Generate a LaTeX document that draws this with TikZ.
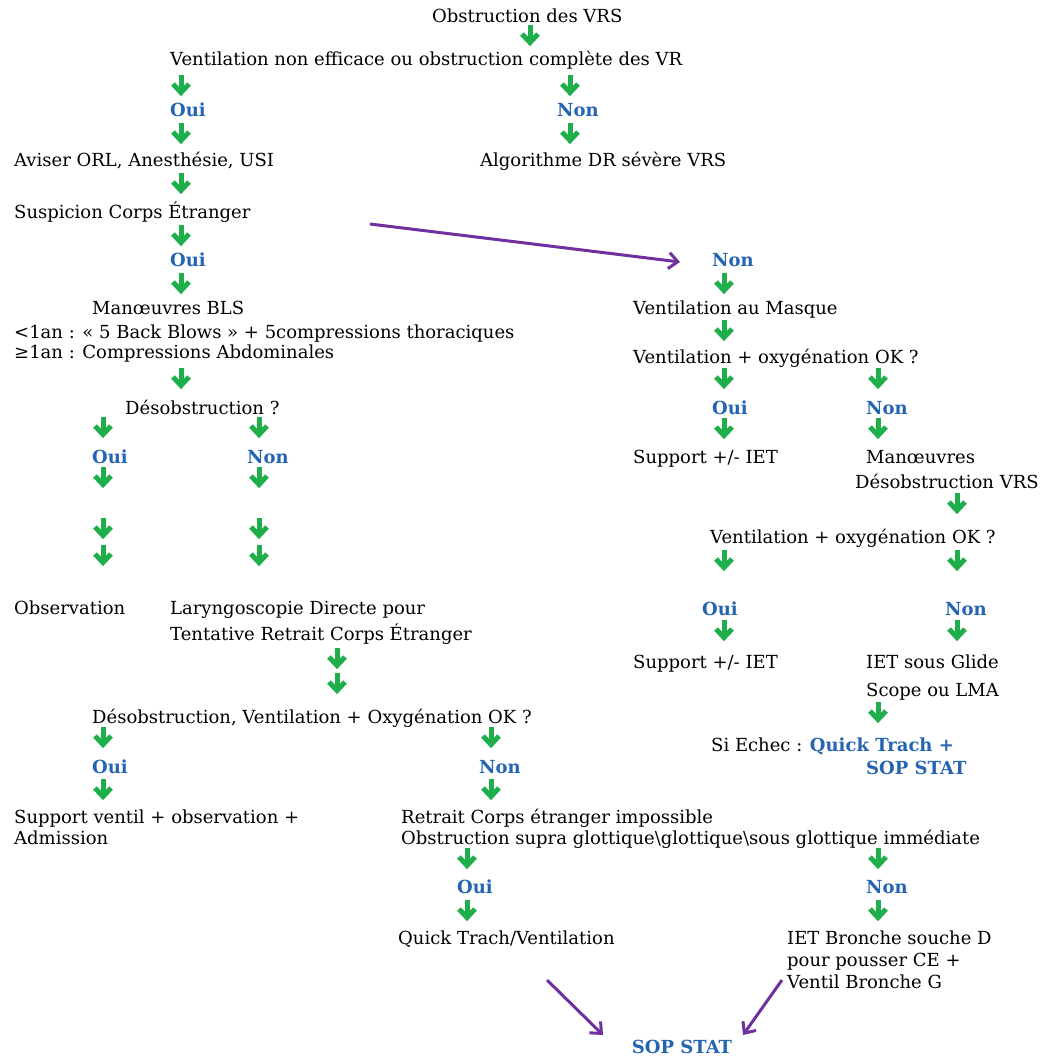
\documentclass[tikz,border=0pt]{standalone}
\usepackage{fontspec}
\setmainfont{DejaVu Serif}
\usetikzlibrary{arrows.meta}
\definecolor{gr}{RGB}{30,175,75}
\definecolor{bl}{RGB}{36,100,178}
\definecolor{pu}{RGB}{112,48,160}
\newcommand\fs{\fontsize{18}{21}\selectfont}
\begin{document}
\begin{tikzpicture}[x=1pt,y=-1pt,
  txt/.style={anchor=west,inner sep=0pt,font=\fs,text height=14pt,text depth=2pt},
  lbl/.style={txt,font=\fs\bfseries,text=bl},
  parrow/.style={draw=pu,line width=3pt,-{Straight Barb[length=9pt,width=16pt]}},
  garrow/.pic={\draw[gr,line width=5pt] (0,-10)--(0,6);
               \draw[gr,line width=5pt,line join=miter] (-8,-1)--(0,7.5)--(8,-1);}]
\useasboundingbox (0,0) rectangle (1041,1057);
% ---- texts, left branch
\node[txt] (obs0) at (432,17) {Obstruction des VRS};
\node[txt] (vent) at (170,60) {Ventilation non efficace ou obstruction complète des VR};
\node[lbl] (oui1) at (170,110) {Oui};
\node[lbl] (non1) at (557,110) {Non};
\node[txt] (aviser) at (14,160) {Aviser ORL, Anesthésie, USI};
\node[txt] (algo) at (480,160) {Algorithme DR sévère VRS};
\node[txt] (susp) at (14,212) {Suspicion Corps Étranger};
\node[lbl] (oui2) at (170,260) {Oui};
\node[txt] (bls) at (92,308) {Manœuvres BLS};
\node[txt] (lt1) at (14,332) {<1an : « 5 Back Blows » + 5compressions thoraciques};
\node[txt] (ge1) at (14,352) {≥1an : Compressions Abdominales};
\node[txt] (deso) at (125,408) {Désobstruction ?};
\node[lbl] (oui3) at (92,457) {Oui};
\node[lbl] (non3) at (247,457) {Non};
\node[txt] (observ) at (14,608) {Observation};
\node[txt] (laryA) at (170,608) {Laryngoscopie Directe pour};
\node[txt] (laryB) at (170,634) {Tentative Retrait Corps Étranger};
\node[txt] (deso2) at (92,717) {Désobstruction, Ventilation + Oxygénation OK ?};
\node[lbl] (oui4) at (92,767) {Oui};
\node[lbl] (non4) at (479,767) {Non};
\node[txt] (suppA) at (14,817) {Support ventil + observation +};
\node[txt] (suppB) at (14,838) {Admission};
\node[txt] (retA) at (401,817) {Retrait Corps étranger impossible};
\node[txt] (retB) at (401,838) {Obstruction supra glottique\textbackslash glottique\textbackslash sous glottique immédiate};
\node[lbl] (oui5) at (457,887) {Oui};
\node[lbl] (non5) at (866,887) {Non};
\node[txt] (quick) at (398,938) {Quick Trach/Ventilation};
\node[txt] (ietA) at (787,938) {IET Bronche souche D};
\node[txt] (ietB) at (787,960) {pour pousser CE +};
\node[txt] (ietC) at (787,982) {Ventil Bronche G};
\node[lbl,anchor=center] (sop) at (682,1047) {SOP STAT};
% ---- right branch
\node[lbl] (nonR) at (712,260) {Non};
\node[txt] (masque) at (633,308) {Ventilation au Masque};
\node[txt] (vo1) at (633,357) {Ventilation + oxygénation OK ?};
\node[lbl] (oui6) at (712,408) {Oui};
\node[lbl] (non6) at (866,408) {Non};
\node[txt] (sup1) at (633,457) {Support +/- IET};
\node[txt] (manA) at (866,457) {Manœuvres};
\node[txt] (manB) at (855,482) {Désobstruction VRS};
\node[txt] (vo2) at (710,537) {Ventilation + oxygénation OK ?};
\node[lbl] (oui7) at (702,609) {Oui};
\node[lbl] (non7) at (945,609) {Non};
\node[txt] (sup2) at (633,662) {Support +/- IET};
\node[txt] (glA) at (866,662) {IET sous Glide};
\node[txt] (glB) at (866,690) {Scope ou LMA};
\node[txt] (echec) at (711,745) {Si Echec : \textcolor{bl}{\bfseries Quick Trach +}};
\node[lbl] (sop2) at (866,768) {SOP STAT};
% ---- green arrows
\foreach \p in {(530,35),(181,85),(181,133),(570,85),(570,133),(181,183),(181,235),(181,283),(181,378),
  (103,427),(259,427),(103,477),(259,477),(103,528),(259,528),(103,555),(259,555),
  (337,658),(337,683),(103,737),(491,737),(103,789),(491,789),
  (467,858),(878,858),(467,910),(878,910),
  (724,283),(724,330),(724,378),(878,378),(724,428),(878,428),(957,503),
  (724,560),(957,560),(724,630),(957,630),(878,712)}
  \pic at \p {garrow};
% ---- purple arrows
\coordinate (pA) at (370,224);
\coordinate (pB) at (547,980);
\coordinate (pC) at (782,980);
\draw[parrow] (pA) -- ([shift={(-32,2)}]nonR.west);
\draw[parrow] (pB) -- ([shift={(-79,-12)}]sop.center);
\draw[parrow] (pC) -- ([shift={(61,-12)}]sop.center);
\end{tikzpicture}
\end{document}
